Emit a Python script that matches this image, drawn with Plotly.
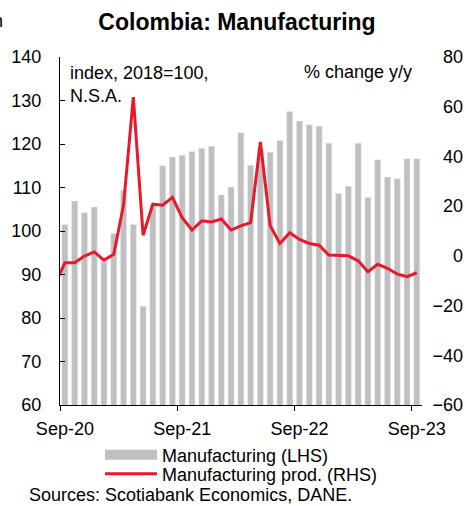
import plotly.graph_objects as go
import pandas as pd

# ---------------- data ----------------
months = [d.strftime('%b-%y') for d in pd.date_range('2020-08-01', '2023-09-01', freq='MS')]
bar_months = months[1:]  # Sep-20 .. Sep-23
manufacturing_lhs = [101.5, 106.9, 104.2, 105.5, 93.0, 99.4, 109.4, 101.5, 82.7, 106.0,
                     115.0, 117.0, 117.4, 118.3, 119.0, 119.5, 108.3, 110.1, 122.6, 115.1,
                     119.0, 118.1, 120.8, 127.5, 125.3, 124.4, 124.1, 120.2, 108.6, 110.3,
                     120.2, 107.7, 116.4, 112.4, 112.0, 116.6, 116.6]
line_months = months  # Aug-20 .. Sep-23
manufacturing_prod_rhs = [-11.3, -2.8, -2.8, -0.1, 1.6, -1.7, 0.6, 20.4, 63.9, 8.3,
                          20.8, 20.4, 23.5, 15.4, 10.4, 14.1, 13.6, 14.8, 10.4, 12.1,
                          13.4, 45.8, 12.1, 5.0, 9.3, 6.6, 5.0, 4.3, 0.3, 0.0,
                          0.0, -2.0, -6.4, -3.4, -5.0, -7.3, -8.4, -6.8]
tick_labels = ['Sep-20', 'Sep-21', 'Sep-22', 'Sep-23']

# positions: month index relative to Sep-20
pos = {m: i - 1 for i, m in enumerate(months)}
bar_x = [pos[m] for m in bar_months]
line_x = [pos[m] for m in line_months]
tick_x = [pos[m] for m in tick_labels]

# ---------------- layout geometry ----------------
W, H = 466, 506
L, R_PLOT, T, B = 60, 421.7, 57, 405
paper_w = W - L
paper_h = B - T
dom_end = (R_PLOT - L) / paper_w


def px(x):
    return (x - L) / paper_w


def py(y):
    return (B - y) / paper_h


FONT = 'Liberation Sans, Arial, sans-serif'
GREY = '#BFBFBF'
RED = '#E8192C'

fig = go.Figure()
fig.add_trace(go.Bar(x=bar_x, y=manufacturing_lhs, marker_color=GREY, width=0.62,
                     name='Manufacturing (LHS)', showlegend=False))
fig.add_trace(go.Scatter(x=[None], y=[None], mode='lines', line=dict(color=GREY, width=10),
                         name='Manufacturing (LHS)', legend='legend'))
fig.add_trace(go.Scatter(x=line_x, y=manufacturing_prod_rhs, yaxis='y3', mode='lines',
                         line=dict(color=RED, width=3), name='Manufacturing prod. (RHS)',
                         legend='legend2'))

legend_common = dict(xanchor='left', yanchor='middle', orientation='v',
                     font=dict(size=18), itemwidth=52, bgcolor='rgba(0,0,0,0)',
                     borderwidth=0)

fig.update_layout(
    width=W, height=H,
    margin=dict(l=L, r=0, t=T, b=H - B, pad=0, autoexpand=False),
    paper_bgcolor='white', plot_bgcolor='white',
    font=dict(family=FONT, size=18, color='black'),
    title=dict(text='<b>Colombia: Manufacturing</b>', x=237 / W, xref='container', xanchor='center',
               y=1 - 22 / H, yref='container', yanchor='middle',
               font=dict(family=FONT, size=23, color='black')),
    bargap=0.38,
    xaxis=dict(domain=[0, dom_end], range=[-0.5, 36.5], tickvals=tick_x, ticktext=tick_labels,
               ticks='', showline=True, linecolor='black', linewidth=1, showgrid=False, zeroline=False,
               minor=dict(tick0=-0.5, dtick=12, ticks='outside', ticklen=5, tickcolor='black'),
               ticklabelstandoff=7, tickfont=dict(size=18)),
    yaxis=dict(range=[60, 140], dtick=10, ticks='inside', ticklen=5, tickcolor='black',
               showline=True, linecolor='black', linewidth=1, showgrid=False, zeroline=False,
               ticklabelstandoff=14, tickfont=dict(size=18)),
    yaxis2=dict(range=[-60, 80], dtick=20, overlaying='y', side='right', anchor='x',
                ticks='inside', ticklen=5, tickcolor='black', showline=True, linecolor='black',
                linewidth=1, showgrid=False, zeroline=False, showticklabels=False),
    yaxis3=dict(range=[-60, 80], dtick=20, overlaying='y', side='left', anchor='free', position=1.0,
                ticks='', showline=False, showgrid=False, zeroline=False,
                ticklabelstandoff=3, tickfont=dict(size=18)),
    legend=dict(x=px(100), y=py(455), **legend_common),
    legend2=dict(x=px(100), y=py(474), **legend_common),
    showlegend=True,
)

fig.add_annotation(text='index, 2018=100,<br>N.S.A.', xref='paper', yref='paper',
                   x=px(68), y=py(61), xanchor='left', yanchor='top', align='left',
                   showarrow=False, font=dict(size=18))
fig.add_annotation(text='% change y/y', xref='paper', yref='paper',
                   x=px(414), y=py(72), xanchor='right', yanchor='middle',
                   showarrow=False, font=dict(size=18))
fig.add_annotation(text='Sources: Scotiabank Economics, DANE.', xref='paper', yref='paper',
                   x=px(27), y=py(495), xanchor='left', yanchor='middle',
                   showarrow=False, font=dict(size=18))
fig.add_annotation(text='n', xref='paper', yref='paper',
                   x=px(5), y=py(21), xanchor='right', yanchor='middle',
                   showarrow=False, font=dict(size=18))

fig.write_html('out.html')
